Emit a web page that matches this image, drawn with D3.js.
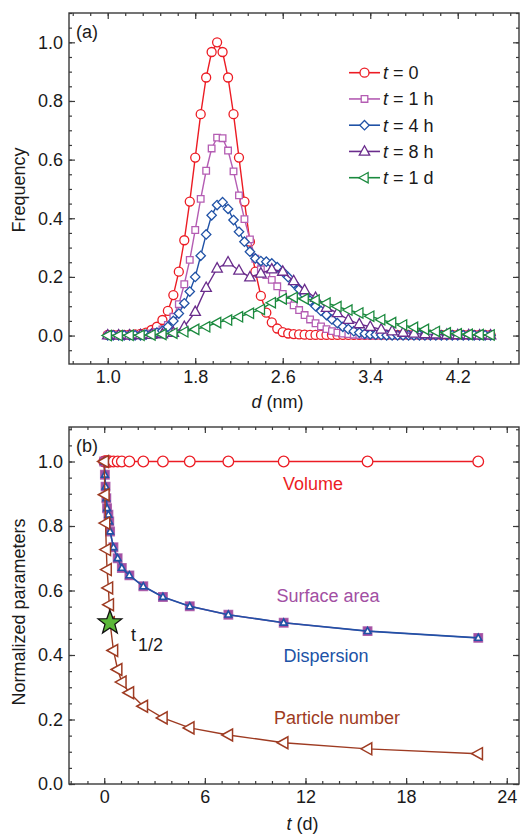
<!DOCTYPE html>
<html><head><meta charset="utf-8">
<script src="https://cdn.jsdelivr.net/npm/d3@7"></script>
<style>
html,body{margin:0;padding:0;background:#fff;}
text{font-family:"Liberation Sans",Arial,Helvetica,sans-serif;}
</style></head>
<body><svg id="c" width="521" height="835"></svg>
<script>
// ---------- Panel (a) data ----------
const d05 = [1.00,1.05,1.10,1.15,1.20,1.25,1.30,1.35,1.40,1.45,1.50,1.55,1.60,1.65,1.70,1.75,1.80,1.85,1.90,1.95,
 2.00,2.05,2.10,2.15,2.20,2.25,2.30,2.35,2.40,2.45,2.50,2.55,2.60,2.65,2.70,2.75,2.80,2.85,2.90,2.95,
 3.00,3.05,3.10,3.15,3.20,3.25,3.30,3.35,3.40,3.45,3.50,3.55,3.60,3.65,3.70,3.75,3.80,3.85,3.90,3.95,
 4.00,4.05,4.10,4.15,4.20,4.25,4.30,4.35,4.40,4.45,4.50];
const d10 = [1.0,1.1,1.2,1.3,1.4,1.5,1.6,1.7,1.8,1.9,2.0,2.1,2.2,2.3,2.4,2.5,2.6,2.7,2.8,2.9,
 3.0,3.1,3.2,3.3,3.4,3.5,3.6,3.7,3.8,3.9,4.0,4.1,4.2,4.3,4.4,4.5];
const freq0 = [0.002,0.002,0.002,0.002,0.003,0.004,0.006,0.010,0.019,0.030,0.053,0.084,0.138,0.218,0.325,0.457,0.607,0.755,0.880,0.967,
 1.000,0.967,0.880,0.755,0.607,0.457,0.320,0.218,0.135,0.078,0.045,0.024,0.012,0.007,0.005,0.004,0.003,0.002,0.002,0.002,
 0.002,0.002,0.002,0.002,0.002,0.002,0.002,0.002,0.002,0.002,0.002,0.002,0.002,0.002,0.002,0.002,0.002,0.002,0.002,0.002,
 0.002,0.002,0.002,0.002,0.002,0.002,0.002,0.002,0.002,0.002,0.002];
const freq1h = [0.001,0.001,0.001,0.001,0.001,0.001,0.002,0.004,0.007,0.012,0.021,0.036,0.064,0.107,0.175,0.258,0.360,0.466,0.562,0.638,
 0.675,0.673,0.631,0.560,0.478,0.397,0.328,0.262,0.226,0.206,0.190,0.168,0.142,0.122,0.103,0.087,0.070,0.055,0.042,0.031,
 0.022,0.015,0.010,0.007,0.005,0.003,0.002,0.001,0.001,0.001,0.001,0.001,0.001,0.001,0.001,0.001,0.001,0.001,0.001,0.001,
 0.001,0.001,0.001,0.001,0.001,0.001,0.001,0.001,0.001,0.001,0.001];
const freq4h = [0.001,0.001,0.001,0.001,0.001,0.001,0.001,0.003,0.006,0.010,0.016,0.030,0.050,0.075,0.110,0.150,0.200,0.272,0.345,0.410,
 0.445,0.455,0.432,0.394,0.354,0.320,0.286,0.263,0.254,0.252,0.246,0.233,0.218,0.199,0.178,0.158,0.138,0.119,0.100,0.084,
 0.070,0.055,0.042,0.030,0.022,0.015,0.010,0.006,0.004,0.003,0.002,0.001,0.001,0.001,0.001,0.001,0.001,0.001,0.001,0.001,
 0.001,0.001,0.001,0.001,0.001,0.001,0.001,0.001,0.001,0.001,0.001];
const freq8h = [0.001,0.001,0.001,0.002,0.003,0.005,0.010,0.030,0.081,0.163,0.229,0.250,0.222,0.199,0.212,0.226,0.218,0.186,0.155,0.129,
 0.095,0.077,0.054,0.039,0.030,0.021,0.015,0.010,0.007,0.005,0.004,0.003,0.002,0.002,0.001,0.001];
const freq1d = [0.000,0.000,0.001,0.001,0.002,0.004,0.008,0.013,0.021,0.030,0.044,0.053,0.064,0.076,0.089,0.112,0.125,0.130,0.125,0.121,
 0.111,0.099,0.087,0.077,0.066,0.054,0.044,0.036,0.028,0.021,0.014,0.009,0.006,0.004,0.003,0.002];
const legendLabels = ["0","1 h","4 h","8 h","1 d"];
const xTicksA = [1.0,1.8,2.6,3.4,4.2];
const yTicks = [0.0,0.2,0.4,0.6,0.8,1.0];

// ---------- Panel (b) data ----------
const tDays = [0,0.04,0.08,0.125,0.17,0.25,0.3,0.35,0.55,0.8,1.05,1.5,2.33,3.5,5.1,7.4,10.7,15.7,22.3];
const volume = [1,1,1,1,1,1,1,1,1,1,1,1,1,1,1,1,1,1,1];
const surface = [1.0,0.959,0.922,0.886,0.855,0.835,0.814,0.783,0.734,0.700,0.670,0.647,0.613,0.580,0.551,0.525,0.500,0.474,0.453];
const dispersion = [1.0,0.959,0.922,0.886,0.855,0.835,0.814,0.783,0.734,0.700,0.670,0.647,0.613,0.580,0.551,0.525,0.500,0.474,0.453];
const particle = [1.0,0.897,0.809,0.727,0.665,0.608,0.556,0.500,0.414,0.355,0.316,0.283,0.241,0.205,0.174,0.152,0.128,0.109,0.094];
const halfLife = {t:0.34, v:0.5};
const xTicksB = [0,6,12,18,24];

// ---------- drawing ----------
const svg = d3.select("#c");
const FRAME = "#3a3a3a";
const C = {red:"#ec1c24", pink:"#b45db3", blue:"#2052a6", purple:"#6a2c8c", green:"#1b8a3e", brown:"#9e3b22", mag:"#a24fa3"};

const L=69, R=519;
const A = {top:13, bottom:364};
const B = {top:427, bottom:784};
const xA = d3.scaleLinear().domain([0.646,4.76]).range([L,R]);
const yA = d3.scaleLinear().domain([-0.097,1.1]).range([A.bottom,A.top]);
const xB = d3.scaleLinear().domain([-2.1,24.73]).range([L,R]);
const yB = d3.scaleLinear().domain([0,1.107]).range([B.bottom,B.top]);

function frame(x,y,P,xMaj,xMin,yMaj,yMin,fmtX,fmtY){
  const g = svg.append("g");
  const ax = (gen, tr, vals, size, fmt) => {
    const a = g.append("g").attr("transform",tr)
      .call(gen.tickValues(vals).tickSize(size).tickSizeOuter(0).tickPadding(6).tickFormat(fmt));
    a.select(".domain").remove();
    a.selectAll("line").attr("stroke",FRAME).attr("stroke-width",1.2);
    a.selectAll("text").attr("font-size",18).attr("fill","#1a1a1a").attr("font-family",'"Liberation Sans",Arial,sans-serif');
    return a;
  };
  ax(d3.axisBottom(x), `translate(0,${P.bottom})`, xMin, -3, "");
  ax(d3.axisBottom(x), `translate(0,${P.bottom})`, xMaj, -6, fmtX);
  ax(d3.axisTop(x), `translate(0,${P.top})`, xMin, -3, "");
  ax(d3.axisTop(x), `translate(0,${P.top})`, xMaj, -6, "");
  ax(d3.axisLeft(y), `translate(${L},0)`, yMin, -3, "");
  ax(d3.axisLeft(y), `translate(${L},0)`, yMaj, -6, fmtY);
  ax(d3.axisRight(y), `translate(${R},0)`, yMin, -3, "");
  ax(d3.axisRight(y), `translate(${R},0)`, yMaj, -6, "");
  g.append("rect").attr("x",L).attr("y",P.top).attr("width",R-L).attr("height",P.bottom-P.top)
    .attr("fill","none").attr("stroke",FRAME).attr("stroke-width",1.4);
  return g;
}
const f1 = d3.format(".1f"), f0 = d3.format("d");
const range = (a,b,s)=>{const r=[];for(let v=a;v<=b+1e-9;v+=s) r.push(+v.toFixed(4));return r;};

frame(xA,yA,A,xTicksA,range(0.68,4.76,0.16),yTicks,range(-0.05,1.1,0.05),f1,f1);
frame(xB,yB,B,xTicksB,range(-2,24,1),yTicks,range(0,1.1,0.05),f0,f1);

function markerPath(type,s){
  switch(type){
    case "circle": return `M${s},0A${s},${s} 0 1,1 ${-s},0A${s},${s} 0 1,1 ${s},0Z`;
    case "square": return `M${-s},${-s}H${s}V${s}H${-s}Z`;
    case "diamond": return `M0,${-s}L${s},0L0,${s}L${-s},0Z`;
    case "triUp": return `M0,${-s*1.1}L${s},${s*0.7}L${-s},${s*0.7}Z`;
    case "triLeft": return `M${-s*1.1},0L${s*0.7},${-s}L${s*0.7},${s}Z`;
  }
}
function series(xs,ys,x,y,color,type,size,opts={}){
  const g = svg.append("g");
  const pts = xs.map((d,i)=>[x(d),y(ys[i])]);
  g.append("path").attr("d",d3.line()(pts)).attr("fill","none")
    .attr("stroke",opts.lineColor||color).attr("stroke-width",opts.lw||1.4);
  g.selectAll("path.m").data(pts).enter().append("path").attr("class","m")
    .attr("transform",d=>`translate(${d[0]},${d[1]})`)
    .attr("d",markerPath(type,size))
    .attr("fill",opts.fill||"#fff").attr("stroke",color).attr("stroke-width",opts.sw||1.3)
    .attr("stroke-opacity",opts.so||1);
}

// Panel (a)
series(d05,freq0,xA,yA,C.red,"circle",4.5);
series(d05,freq1h,xA,yA,C.pink,"square",3.3);
series(d05,freq4h,xA,yA,C.blue,"diamond",4.7);
series(d10,freq8h,xA,yA,C.purple,"triUp",5.2);
series(d10,freq1d,xA,yA,C.green,"triLeft",5.2);

// legend
const legend = [[C.red,"circle",4.5],[C.pink,"square",3.3],[C.blue,"diamond",4.7],[C.purple,"triUp",5.2],[C.green,"triLeft",5.2]];
const legY = d3.scalePoint().domain(legendLabels).range([72.7,177.7]);
legendLabels.forEach((lab,i)=>{
  const yy = legY(lab), c = legend[i];
  svg.append("line").attr("x1",349).attr("x2",380).attr("y1",yy).attr("y2",yy).attr("stroke",c[0]).attr("stroke-width",1.6);
  svg.append("path").attr("transform",`translate(364.5,${yy})`).attr("d",markerPath(c[1],c[2]))
    .attr("fill","#fff").attr("stroke",c[0]).attr("stroke-width",1.3);
  const t = svg.append("text").attr("x",383).attr("y",yy+6.5).attr("font-size",18).attr("fill","#1a1a1a");
  t.append("tspan").attr("font-style","italic").text("t");
  t.append("tspan").text(" = "+lab);
});

// Panel (b)
series(tDays,volume,xB,yB,C.red,"circle",5.3);
series(tDays,surface,xB,yB,C.mag,"square",4.3,{fill:C.mag,so:0.8});
series(tDays,dispersion,xB,yB,C.blue,"triUp",3.4,{lw:1.6,sw:1.6});
series(tDays,particle,xB,yB,C.brown,"triLeft",6.0,{sw:1.5});

// star marking t1/2
(function(){
  const cx=xB(halfLife.t), cy=yB(halfLife.v), Ro=12.5, Ri=5.2;
  const p=[];
  for(let k=0;k<10;k++){const r=k%2?Ri:Ro, a=-Math.PI/2+k*Math.PI/5; p.push([cx+r*Math.cos(a),cy+r*Math.sin(a)]);}
  svg.append("path").attr("d","M"+p.map(q=>q.join(",")).join("L")+"Z").attr("fill","#5cb83a").attr("stroke","#111").attr("stroke-width",1.3);
})();

// texts
const T = (x,y,s,col,anchor="start")=>svg.append("text").attr("x",x).attr("y",y).attr("font-size",18).attr("fill",col).attr("text-anchor",anchor).text(s);
T(76,38,"(a)","#1a1a1a");
T(76,451.5,"(b)","#1a1a1a");
T(313,489.5,"Volume",C.red,"middle");
T(328,601.5,"Surface area",C.mag,"middle");
T(326,661.5,"Dispersion",C.blue,"middle");
T(337,723.5,"Particle number",C.brown,"middle");
const th = svg.append("text").attr("x",131).attr("y",641).attr("font-size",18).attr("fill","#1a1a1a");
th.append("tspan").text("t");
th.append("tspan").attr("dx",2).attr("dy",10).text("1/2");

// axis titles
const xt1 = svg.append("text").attr("x",277.5).attr("y",408).attr("font-size",18).attr("text-anchor","middle").attr("fill","#1a1a1a");
xt1.append("tspan").attr("font-style","italic").text("d");
xt1.append("tspan").text(" (nm)");
const xt2 = svg.append("text").attr("x",302.5).attr("y",830).attr("font-size",18).attr("text-anchor","middle").attr("fill","#1a1a1a");
xt2.append("tspan").attr("font-style","italic").text("t");
xt2.append("tspan").text(" (d)");
svg.append("text").attr("transform","translate(25,190) rotate(-90)").attr("font-size",18).attr("text-anchor","middle").attr("fill","#1a1a1a").text("Frequency");
svg.append("text").attr("transform","translate(25,612) rotate(-90)").attr("font-size",18).attr("text-anchor","middle").attr("fill","#1a1a1a").text("Normalized parameters");
</script></body></html>
